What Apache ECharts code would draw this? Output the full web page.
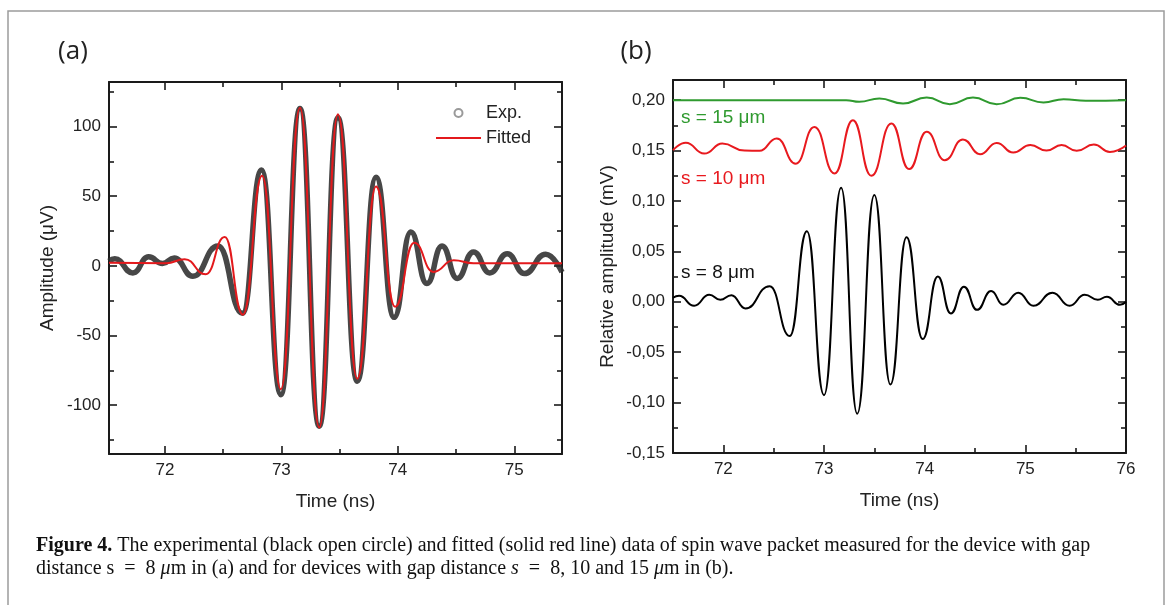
<!DOCTYPE html>
<html>
<head>
<meta charset="utf-8">
<script src="https://cdn.jsdelivr.net/npm/echarts@6/dist/echarts.min.js"></script>
<style>
  html, body { margin: 0; padding: 0; background: #fff; }
  #chart { width: 1170px; height: 605px; }
</style>
</head>
<body>
<div id="chart"></div>
<script>
// ---------- data ----------
// Panel (a): time (ns) vs amplitude (µV), extrema of the measured and fitted packets
const expA = [[71.52,3.5],[71.57,5.2],[71.725,-5],[71.86,6.5],[71.98,1.7],[72.08,5.7],[72.24,-7.4],
  [72.456,14.3],[72.666,-34],[72.83,68.8],[72.996,-92.4],[73.16,112.9],[73.325,-115],[73.486,106.4],
  [73.652,-82.8],[73.813,63.6],[73.968,-36.9],[74.112,24.3],[74.25,-12.6],[74.38,14.3],[74.51,-9],
  [74.65,10],[74.79,-5],[74.94,8.8],[75.087,-5.5],[75.27,8.4],[75.41,-4.5]];
const fitA = [[71.52,2.2],[72.01,1.9],[72.17,4.8],[72.35,-6],[72.514,20.7],[72.67,-35],[72.835,64.8],
  [72.996,-88.5],[73.16,113.6],[73.325,-116],[73.486,108.8],[73.652,-81],[73.813,57],[73.977,-29.3],
  [74.14,16.7],[74.306,-4.3],[74.48,4],[74.65,1.9],[75.41,1.9]];
// Panel (b): time (ns) vs relative amplitude (mV)
const s8 = [[71.5,0.004],[71.56,0.006],[71.71,-0.004],[71.86,0.007],[71.97,0.002],[72.08,0.0066],
  [72.22,-0.0066],[72.46,0.0155],[72.66,-0.034],[72.83,0.070],[73.0,-0.0926],[73.17,0.113],
  [73.33,-0.111],[73.5,0.106],[73.66,-0.082],[73.82,0.064],[73.98,-0.037],[74.13,0.025],
  [74.26,-0.0116],[74.39,0.015],[74.52,-0.008],[74.66,0.0106],[74.78,-0.003],[74.93,0.009],
  [75.08,-0.004],[75.27,0.009],[75.44,-0.004],[75.59,0.007],[75.72,0.002],[75.81,0.005],
  [75.94,-0.003],[76.0,0.0]];
const s10 = [[71.5,0.1504],[71.627,0.1577],[71.81,0.147],[71.99,0.157],[72.21,0.150],[72.36,0.1497],
  [72.53,0.162],[72.72,0.137],[72.905,0.1735],[73.105,0.1273],[73.287,0.180],[73.47,0.125],
  [73.67,0.1769],[73.845,0.1316],[74.02,0.1686],[74.2,0.1405],[74.38,0.161],[74.55,0.1464],
  [74.715,0.1576],[74.88,0.148],[75.05,0.1554],[75.21,0.150],[75.36,0.1554],[75.51,0.1497],
  [75.68,0.156],[75.84,0.1487],[76.0,0.155]];
const s15 = [[71.5,0.2],[73.22,0.2],[73.35,0.1984],[73.55,0.2017],[73.785,0.1967],[74.02,0.2026],
  [74.25,0.196],[74.48,0.2026],[74.715,0.196],[74.95,0.2023],[75.18,0.1977],[75.38,0.201],
  [75.6,0.1995],[76.0,0.2]];

// axis ranges and ticks
const xRangeA = [71.52, 75.41];
const yRangeA = [-135, 132];
const xMajorA = [72, 73, 74, 75];
const xMinorA = [72.5, 73.5, 74.5];
const yMajorA = [-100, -50, 0, 50, 100];
const yMinorA = [-125, -75, -25, 25, 75, 125];

const xRangeB = [71.5, 76];
const yRangeB = [-0.15, 0.22];
const xMajorB = [72, 73, 74, 75, 76];
const xMinorB = [72.5, 73.5, 74.5, 75.5];
const yMajorB = [-0.15, -0.10, -0.05, 0, 0.05, 0.10, 0.15, 0.20];
const yMinorB = [-0.125, -0.075, -0.025, 0.025, 0.075, 0.125, 0.175];

const legendNames = ['Exp.', 'Fitted'];
const curveLabels = ['s = 15 μm', 's = 10 μm', 's = 8 μm'];

// ---------- chart ----------
const INK = '#1a1a1a';
const SANS = 'Liberation Sans, Arial, sans-serif';
const SERIF = 'Liberation Serif, Times New Roman, serif';
const SMOOTH = 0.5;

function makeAxes(kind, gridIndex, range, major, minor, fmt, name, nameGap) {
  const sides = kind === 'x' ? ['bottom', 'top'] : ['left', 'right'];
  const out = [];
  sides.forEach((side, s) => {
    [major, minor].forEach((vals, m) => {
      const main = s === 0 && m === 0;
      out.push({
        type: 'value', gridIndex, position: side, min: range[0], max: range[1],
        axisLine: { show: m === 0, onZero: false, lineStyle: { color: INK, width: 2 } },
        axisTick: { show: true, inside: true, customValues: vals, length: m === 0 ? 8 : 5,
                    lineStyle: { color: INK, width: 1.6 } },
        axisLabel: main ? { show: true, customValues: major, formatter: fmt, margin: 8,
                            fontSize: 17, color: '#222', fontFamily: SANS } : { show: false },
        splitLine: { show: false },
        axisPointer: { show: false },
        name: main ? name : '',
        nameLocation: 'middle', nameGap: nameGap, nameRotate: kind === 'y' ? 90 : 0,
        nameTextStyle: { fontSize: 19, color: '#222', fontFamily: SANS }
      });
    });
  });
  return out;
}

const fmtPlain = v => String(v);
const fmtComma = v => v.toFixed(2).replace('.', ',');

const chart = echarts.init(document.getElementById('chart'), null, { renderer: 'canvas' });

function wave(name, data, xi, color, width, z) {
  return { name, type: 'line', xAxisIndex: xi, yAxisIndex: xi, data,
    smooth: SMOOTH, smoothMonotone: 'x', symbol: 'none', z: z || 2,
    lineStyle: { color, width }, itemStyle: { color } };
}

const option = {
  backgroundColor: '#fff',
  animation: false,
  grid: [
    { left: 109, top: 82, width: 453, height: 372, outerBoundsMode: 'none' },
    { left: 673, top: 80, width: 453, height: 373, outerBoundsMode: 'none' }
  ],
  xAxis: [].concat(
    makeAxes('x', 0, xRangeA, xMajorA, xMinorA, fmtPlain, 'Time (ns)', 38),
    makeAxes('x', 1, xRangeB, xMajorB, xMinorB, fmtPlain, 'Time (ns)', 38)
  ),
  yAxis: [].concat(
    makeAxes('y', 0, yRangeA, yMajorA, yMinorA, fmtPlain, 'Amplitude (μV)', 52),
    makeAxes('y', 1, yRangeB, yMajorB, yMinorB, fmtComma, 'Relative amplitude (mV)', 56)
  ),
  legend: {
    left: 435, top: 104, orient: 'vertical', padding: 0,
    itemWidth: 45, itemHeight: 8, itemGap: 7,
    textStyle: { fontSize: 18, color: '#222', fontFamily: SANS },
    data: [
      { name: legendNames[0], icon: 'emptyCircle', itemStyle: { color: '#9a9a9a', borderColor: '#9a9a9a' } },
      { name: legendNames[1], itemStyle: { opacity: 0 } }
    ]
  },
  series: [
    Object.assign(wave(legendNames[0], expA, 0, '#333333', 5.5, 2), {
      lineStyle: { color: '#2e2e2e', width: 5.5, opacity: 0.88 }, itemStyle: { color: '#9a9a9a' } }),
    wave(legendNames[1], fitA, 0, '#e3191c', 2, 3),
    wave('s = 15 μm', s15, 4, '#2f9a2f', 2),
    wave('s = 10 μm', s10, 4, '#e8191e', 2),
    wave('s = 8 μm', s8, 4, '#000000', 2)
  ],
  graphic: [
    { type: 'rect', shape: { x: 8, y: 11, width: 1156, height: 640 }, silent: true,
      style: { fill: 'none', stroke: '#9c9c9c', lineWidth: 1.5 }, z: -10 },
    { type: 'text', x: 73, y: 52, silent: true,
      style: { text: '(a)', fontSize: 26, fontFamily: 'Open Sans, sans-serif', fill: '#222', align: 'center', verticalAlign: 'middle' } },
    { type: 'text', x: 636, y: 52, silent: true,
      style: { text: '(b)', fontSize: 26, fontFamily: 'Open Sans, sans-serif', fill: '#222', align: 'center', verticalAlign: 'middle' } },
    { type: 'text', x: 681, y: 118, silent: true,
      style: { text: curveLabels[0], fontSize: 19, fontFamily: SANS, fill: '#2f9a2f', align: 'left', verticalAlign: 'middle' } },
    { type: 'text', x: 681, y: 179, silent: true,
      style: { text: curveLabels[1], fontSize: 19, fontFamily: SANS, fill: '#e8191e', align: 'left', verticalAlign: 'middle' } },
    { type: 'text', x: 681, y: 273, silent: true,
      style: { text: curveLabels[2], fontSize: 19, fontFamily: SANS, fill: '#111', align: 'left', verticalAlign: 'middle' } },
    { type: 'text', x: 36, y: 546, silent: true,
      style: { text: '{b|Figure 4.} The experimental (black open circle) and fitted (solid red line) data of spin wave packet measured for the device with gap',
        fontSize: 20, fontFamily: SERIF, fill: '#111', verticalAlign: 'middle',
        rich: { b: { fontWeight: 'bold', fontSize: 20, fontFamily: SERIF, fill: '#111' } } } },
    { type: 'text', x: 36, y: 569, silent: true,
      style: { text: 'distance s\u2002=\u20028 {i|μ}m in (a) and for devices with gap distance {i|s}\u2002=\u20028, 10 and 15 {i|μ}m in (b).',
        fontSize: 20, fontFamily: SERIF, fill: '#111', verticalAlign: 'middle',
        rich: { i: { fontStyle: 'italic', fontSize: 20, fontFamily: SERIF, fill: '#111' } } } }
  ]
};
chart.setOption(option);
</script>
</body>
</html>
